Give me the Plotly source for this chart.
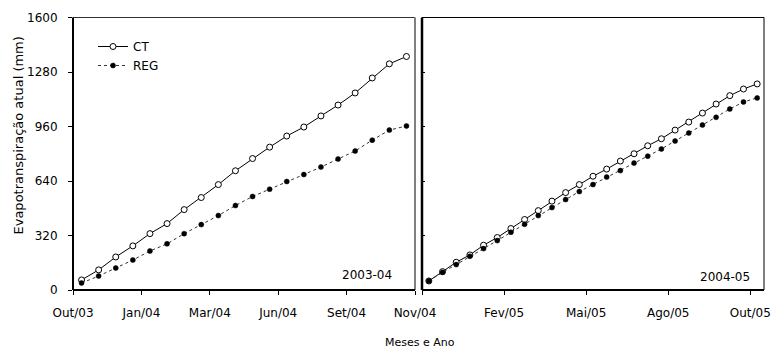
import plotly.graph_objects as go

# ---- data ----
ct_0304 = [59, 118, 194, 259, 331, 390, 472, 543, 619, 700, 772, 839, 904, 957,
           1022, 1086, 1157, 1245, 1328, 1371]
reg_0304 = [41, 82, 129, 176, 229, 271, 331, 384, 437, 496, 549, 592, 637, 678,
            722, 769, 816, 880, 939, 963]
ct_0405 = [53, 108, 163, 206, 263, 308, 361, 414, 466, 522, 572, 619, 668, 710,
           757, 800, 847, 888, 939, 986, 1039, 1092, 1141, 1180, 1210]
reg_0405 = [53, 104, 149, 198, 243, 290, 339, 386, 437, 484, 531, 578, 619, 663,
            701, 745, 786, 828, 875, 922, 969, 1014, 1063, 1104, 1128]

labels_0304 = ["Out/03", "Jan/04", "Mar/04", "Jun/04", "Set/04", "Nov/04"]
labels_0405 = ["", "Fev/05", "Mai/05", "Ago/05", "Out/05"]
y_ticks = [0, 320, 640, 960, 1280, 1600]
series_names = ["CT", "REG"]
panel_names = ["2003-04", "2004-05"]

W, H = 773, 351
FONT = "DejaVu Sans"

x_left = list(range(len(ct_0304)))
x_right = list(range(len(ct_0405)))
tv_left = [-0.5 + 4 * k for k in range(len(labels_0304))]
tv_right = [-0.5 + 6 * k for k in range(len(labels_0405))]

fig = go.Figure()

ct_style = dict(mode="lines+markers", line=dict(color="black", width=1),
                marker=dict(symbol="circle", size=6, color="white",
                            line=dict(color="black", width=1)))
reg_style = dict(mode="lines+markers", line=dict(color="#333333", width=1, dash="dot"),
                 marker=dict(symbol="circle", size=5, color="black",
                             line=dict(color="black", width=0.5)))

fig.add_trace(go.Scatter(x=x_left, y=ct_0304, name=series_names[0], xaxis="x", yaxis="y", **ct_style))
fig.add_trace(go.Scatter(x=x_left, y=reg_0304, name=series_names[1], xaxis="x", yaxis="y", **reg_style))
fig.add_trace(go.Scatter(x=x_right, y=ct_0405, name=series_names[0], xaxis="x2", yaxis="y2",
                         showlegend=False, **ct_style))
fig.add_trace(go.Scatter(x=x_right, y=reg_0405, name=series_names[1], xaxis="x2", yaxis="y2",
                         showlegend=False, **reg_style))

ydom = [(H - 290) / H, (H - 17.5) / H]
tickfont = dict(family=FONT, size=12, color="black")

common_x = dict(showgrid=False, zeroline=False, showline=False, ticks="outside",
                ticklen=4, tickwidth=1, tickcolor="black", tickfont=tickfont,
                ticklabelstandoff=8, automargin=False)
common_y = dict(showgrid=False, zeroline=False, showline=False, range=[0, 1600],
                tickvals=y_ticks, tickwidth=1, tickcolor="black", tickfont=tickfont,
                automargin=False)

fig.update_layout(
    template="none",
    width=W, height=H,
    margin=dict(l=0, r=0, t=0, b=0, pad=0),
    paper_bgcolor="white", plot_bgcolor="white",
    font=dict(family=FONT, size=12, color="black"),
    xaxis=dict(domain=[73 / W, 415 / W], anchor="y", range=[-0.5, len(ct_0304) - 0.5],
               tickvals=tv_left, ticktext=labels_0304, **common_x),
    xaxis2=dict(domain=[422 / W, 764 / W], anchor="y2", range=[-0.5, len(ct_0405) - 0.5],
                tickvals=tv_right, ticktext=labels_0405, **common_x),
    yaxis=dict(domain=ydom, anchor="x", ticks="outside", ticklen=4,
               ticklabelstandoff=8, **common_y),
    yaxis3=dict(overlaying="y", anchor="x", side="left", ticks="inside", ticklen=3,
                showticklabels=False, **common_y),
    yaxis2=dict(domain=ydom, anchor="x2", ticks="inside", ticklen=3,
                showticklabels=False, **common_y),
    legend=dict(x=93 / W, y=(H - 32) / H, xanchor="left", yanchor="top",
                bgcolor="rgba(0,0,0,0)", borderwidth=0, font=dict(family=FONT, size=12),
                itemwidth=30, tracegroupgap=0),
    showlegend=True,
)

# panel frames
def frame(xr, yr, sides):
    for (x0, y0, x1, y1), color, w in sides:
        fig.add_shape(type="line", xref=xr, yref=yr, x0=x0, y0=y0, x1=x1, y1=y1,
                      line=dict(color=color, width=w), layer="above")

frame("x domain", "y domain", [
    ((0, 1, 1, 1), "#333333", 1),
    ((1, 0, 1, 1), "#808080", 2),
    ((0, 0, 0, 1), "black", 2),
    ((0, 0, 1, 0), "black", 2),
])
frame("x2 domain", "y2 domain", [
    ((0, 1, 1, 1), "black", 1),
    ((1, 0, 1, 1), "black", 1),
    ((0, 0, 0, 1), "black", 2.5),
    ((0, 0, 1, 0), "black", 2),
])

fig.add_annotation(text=panel_names[0], xref="paper", yref="paper",
                   x=394 / W, y=(H - 275) / H, xanchor="right", yanchor="middle",
                   showarrow=False, font=dict(family=FONT, size=12))
fig.add_annotation(text=panel_names[1], xref="paper", yref="paper",
                   x=752 / W, y=(H - 277) / H, xanchor="right", yanchor="middle",
                   showarrow=False, font=dict(family=FONT, size=12))
fig.add_annotation(text="Evapotranspiração atual (mm)", xref="paper", yref="paper",
                   x=17.5 / W, y=(H - 136) / H, xanchor="center", yanchor="middle",
                   textangle=-90, showarrow=False, font=dict(family=FONT, size=13))
fig.add_annotation(text="Meses e Ano", xref="paper", yref="paper",
                   x=420 / W, y=(H - 342) / H, xanchor="center", yanchor="middle",
                   showarrow=False, font=dict(family=FONT, size=11))

fig.write_html("out.html", post_script="document.body.style.margin='0';",
               config={"displayModeBar": False})
